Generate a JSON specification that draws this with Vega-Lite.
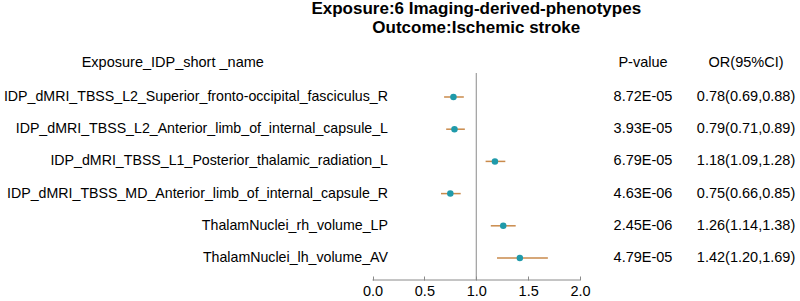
{
  "$schema": "https://vega.github.io/schema/vega-lite/v6.json",
  "width": 800,
  "height": 280,
  "autosize": {"type": "none"},
  "padding": {"top": 0, "left": 0, "right": 0, "bottom": 21},
  "background": "white",
  "config": {"font": "Liberation Sans", "view": {"stroke": null}},
  "data": {
    "values": [
      {"row": 1, "name": "IDP_dMRI_TBSS_L2_Superior_fronto-occipital_fasciculus_R", "p": "8.72E-05", "or": 0.78, "lo": 0.69, "hi": 0.88, "ci": "0.78(0.69,0.88)"},
      {"row": 2, "name": "IDP_dMRI_TBSS_L2_Anterior_limb_of_internal_capsule_L", "p": "3.93E-05", "or": 0.79, "lo": 0.71, "hi": 0.89, "ci": "0.79(0.71,0.89)"},
      {"row": 3, "name": "IDP_dMRI_TBSS_L1_Posterior_thalamic_radiation_L", "p": "6.79E-05", "or": 1.18, "lo": 1.09, "hi": 1.28, "ci": "1.18(1.09,1.28)"},
      {"row": 4, "name": "IDP_dMRI_TBSS_MD_Anterior_limb_of_internal_capsule_R", "p": "4.63E-06", "or": 0.75, "lo": 0.66, "hi": 0.85, "ci": "0.75(0.66,0.85)"},
      {"row": 5, "name": "ThalamNuclei_rh_volume_LP", "p": "2.45E-06", "or": 1.26, "lo": 1.14, "hi": 1.38, "ci": "1.26(1.14,1.38)"},
      {"row": 6, "name": "ThalamNuclei_lh_volume_AV", "p": "4.79E-05", "or": 1.42, "lo": 1.20, "hi": 1.69, "ci": "1.42(1.20,1.69)"}
    ]
  },
  "layer": [
    {
      "mark": {"type": "rule", "color": "#c98a4b", "strokeWidth": 1.5},
      "encoding": {
        "x": {"field": "lo", "type": "quantitative", "scale": {"domain": [-3.59, 4.12], "nice": false, "zero": false}, "axis": {"values": [0, 0.5, 1, 1.5, 2], "format": ".1f", "domain": false, "grid": false, "title": null, "tickSize": -4, "tickColor": "#8a8a8a", "labelPadding": 8, "labelFontSize": 14.5, "labelColor": "#000000", "labelFont": "Liberation Sans"}},
        "x2": {"field": "hi"},
        "y": {"field": "row", "type": "quantitative", "scale": {"domain": [-2.012, 6.683], "reverse": true, "nice": false, "zero": false}, "axis": null}
      }
    },
    {
      "data": {"values": [{"a": 1}]},
      "mark": {"type": "rule", "color": "#8a8a8a", "strokeWidth": 1},
      "encoding": {
        "x": {"datum": 1, "type": "quantitative"},
        "y": {"datum": 0.255, "type": "quantitative"},
        "y2": {"datum": 6.683}
      }
    },
    {
      "data": {"values": [{"a": 1}]},
      "mark": {"type": "rule", "color": "#8a8a8a", "strokeWidth": 1},
      "encoding": {
        "x": {"datum": 0, "type": "quantitative"},
        "x2": {"datum": 2},
        "y": {"datum": 6.683, "type": "quantitative"}
      }
    },
    {
      "mark": {"type": "point", "filled": true, "opacity": 1, "color": "#1f9aaa", "size": 42},
      "encoding": {
        "x": {"field": "or", "type": "quantitative"},
        "y": {"field": "row", "type": "quantitative"}
      }
    },
    {
      "mark": {"type": "text", "align": "right", "baseline": "middle", "fontSize": 14.2, "color": "#000000"},
      "encoding": {
        "x": {"datum": 0.149, "type": "quantitative"},
        "y": {"field": "row", "type": "quantitative"},
        "text": {"field": "name"}
      }
    },
    {
      "mark": {"type": "text", "align": "center", "baseline": "middle", "fontSize": 14.5, "color": "#000000"},
      "encoding": {
        "x": {"datum": 2.607, "type": "quantitative"},
        "y": {"field": "row", "type": "quantitative"},
        "text": {"field": "p"}
      }
    },
    {
      "mark": {"type": "text", "align": "center", "baseline": "middle", "fontSize": 14.5, "color": "#000000"},
      "encoding": {
        "x": {"datum": 3.6, "type": "quantitative"},
        "y": {"field": "row", "type": "quantitative"},
        "text": {"field": "ci"}
      }
    },
    {
      "data": {"values": [{"a": 1}]},
      "mark": {"type": "text", "align": "center", "baseline": "middle", "fontSize": 14.5, "color": "#000000"},
      "encoding": {
        "x": {"datum": -1.925, "type": "quantitative"},
        "y": {"datum": -0.056, "type": "quantitative"},
        "text": {"value": "Exposure_IDP_short _name"}
      }
    },
    {
      "data": {"values": [{"a": 1}]},
      "mark": {"type": "text", "align": "center", "baseline": "middle", "fontSize": 14.5, "color": "#000000"},
      "encoding": {
        "x": {"datum": 2.607, "type": "quantitative"},
        "y": {"datum": -0.056, "type": "quantitative"},
        "text": {"value": "P-value"}
      }
    },
    {
      "data": {"values": [{"a": 1}]},
      "mark": {"type": "text", "align": "center", "baseline": "middle", "fontSize": 14.5, "color": "#000000"},
      "encoding": {
        "x": {"datum": 3.6, "type": "quantitative"},
        "y": {"datum": -0.056, "type": "quantitative"},
        "text": {"value": "OR(95%CI)"}
      }
    },
    {
      "data": {"values": [{"a": 1}]},
      "mark": {"type": "text", "align": "center", "baseline": "middle", "fontSize": 17, "fontWeight": "bold", "color": "#000000"},
      "encoding": {
        "x": {"datum": 1, "type": "quantitative"},
        "y": {"datum": -1.717, "type": "quantitative"},
        "text": {"value": "Exposure:6 Imaging-derived-phenotypes"}
      }
    },
    {
      "data": {"values": [{"a": 1}]},
      "mark": {"type": "text", "align": "center", "baseline": "middle", "fontSize": 17, "fontWeight": "bold", "color": "#000000"},
      "encoding": {
        "x": {"datum": 1, "type": "quantitative"},
        "y": {"datum": -1.127, "type": "quantitative"},
        "text": {"value": "Outcome:Ischemic stroke"}
      }
    }
  ]
}
